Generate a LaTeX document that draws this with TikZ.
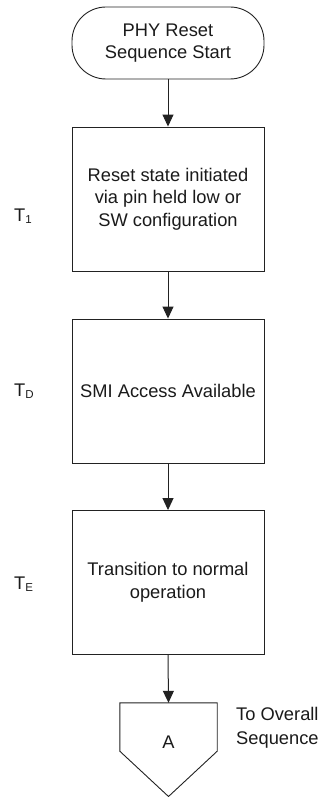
\documentclass[tikz,border=0pt]{standalone}
\usepackage{fontspec}
\setmainfont{Liberation Sans}
\usetikzlibrary{arrows.meta}
\definecolor{linec}{HTML}{222222}
\definecolor{textc}{HTML}{1A1A1A}
\begin{document}
\begin{tikzpicture}[x=1pt,y=-1pt,
  every node/.style={text=textc, font=\fontsize{18.3}{22.5}\selectfont, inner sep=0pt},
  procbox/.style={draw=linec, line width=0.9pt, minimum width=192pt, minimum height=144pt, align=center},
  termbox/.style={draw=linec, line width=0.9pt, rounded corners=34pt, minimum width=192pt, minimum height=72pt, align=center},
  flow/.style={draw=linec, line width=1pt, -{Triangle[length=12pt,width=11pt]}},
  tlabel/.style={anchor=west}
]
\useasboundingbox (0,0) rectangle (320,797);

% start terminator
\node[termbox] (start) at (168,43) {PHY Reset\\Sequence Start};

% process steps
\node[procbox] (reset) at (168,199) {Reset state initiated\\via pin held low or\\SW configuration};
\node[procbox] (smi) at (168,391) {SMI Access Available};
\node[procbox] (trans) at (168,582.5) {Transition to normal\\operation};

% off-page connector
\node[minimum width=97pt, minimum height=48pt] (conn) at (168.5,727) {};
\coordinate (connTip) at (168.5,796.5);
\draw[linec, line width=0.9pt] (conn.north west) -- (conn.north east) -- (conn.south east)
  -- (connTip) -- (conn.south west) -- cycle;
\node (connLabel) at (168.5,742) {A};
\node[anchor=west, align=left, font=\fontsize{18.3}{24}\selectfont] (overall) at (236,728) {To Overall\\Sequence};

% timing labels
\newcommand{\tsub}[1]{\raisebox{-2.5pt}{\fontsize{11.5}{11.5}\selectfont #1}}
\node[tlabel] (t1) at (14,216) {T\tsub{1}};
\node[tlabel] (td) at (14,391) {T\tsub{D}};
\node[tlabel] (te) at (14,584) {T\tsub{E}};

% connectors
\draw[flow] (start) -- (reset);
\draw[flow] (reset) -- (smi);
\draw[flow] (smi) -- (trans);
\draw[flow] (trans.south) -- (conn.north);
\end{tikzpicture}
\end{document}
